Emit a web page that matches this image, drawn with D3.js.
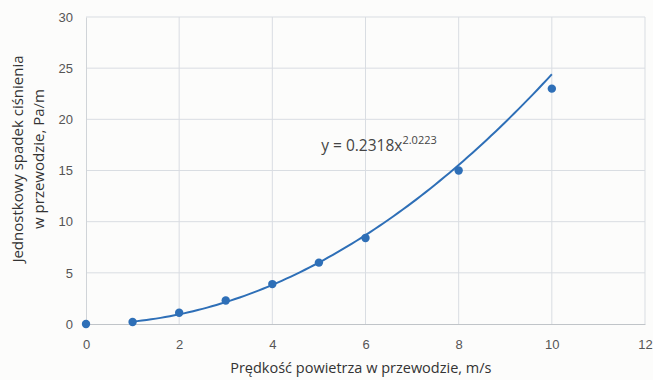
<!DOCTYPE html>
<html>
<head>
<meta charset="utf-8">
<script src="https://cdn.jsdelivr.net/npm/d3@7"></script>
<style>
  body { margin: 0; background: #fcfcfb; }
  svg { font-family: "Open Sans", "Liberation Sans", sans-serif; }
  .tick text { fill: #555; font-size: 13px; }
  .grid line { stroke: #d9dde2; }
</style>
</head>
<body>
<div id="chart"></div>
<script>
// Data
const speed = [0, 1, 2, 3, 4, 5, 6, 8, 10];
const pressureDrop = [0, 0.2, 1.1, 2.3, 3.9, 6.0, 8.4, 15.0, 23.0];
// Power trendline shown on the chart: y = a * x^b
const trendCoef = [0.2318, 2.0223];
const trendRange = [1, 10];
const xTicks = [0, 2, 4, 6, 8, 10, 12];
const yTicks = [0, 5, 10, 15, 20, 25, 30];

const svgWidth = 653, svgHeight = 380;
const margin = { top: 17, right: 8, bottom: 56, left: 86 };
const width = svgWidth - margin.left - margin.right;
const height = svgHeight - margin.top - margin.bottom;
const blue = "#2e6fb7";

const svg = d3.select("#chart").append("svg")
  .attr("width", svgWidth).attr("height", svgHeight);
const g = svg.append("g").attr("transform", `translate(${margin.left},${margin.top})`);

const x = d3.scaleLinear().domain([0, 12]).range([0, width]);
const y = d3.scaleLinear().domain([0, 30]).range([height, 0]);

// Grid
g.append("g").attr("class", "grid")
  .selectAll("line.h").data(yTicks.slice(1)).join("line")
  .attr("x1", 0).attr("x2", width)
  .attr("y1", d => y(d)).attr("y2", d => y(d));
g.append("g").attr("class", "grid")
  .selectAll("line.v").data(xTicks.slice(1)).join("line")
  .attr("y1", 0).attr("y2", height)
  .attr("x1", d => x(d)).attr("x2", d => x(d));

// Axes
const gX = g.append("g").attr("transform", `translate(0,${height})`)
  .call(d3.axisBottom(x).tickValues(xTicks).tickSize(0).tickPadding(16));
gX.select(".domain").attr("stroke", "#c0c4c8");
const gY = g.append("g")
  .call(d3.axisLeft(y).tickValues(yTicks).tickSize(0).tickPadding(13));
gY.select(".domain").attr("stroke", "#d0d4d8");

// Trendline
const trendX = d3.range(trendRange[0], trendRange[1] + 0.001, 0.1);
const line = d3.line()
  .x(d => x(d))
  .y(d => y(trendCoef[0] * Math.pow(d, trendCoef[1])))
  .curve(d3.curveMonotoneX);
g.append("path").datum(trendX)
  .attr("fill", "none").attr("stroke", blue).attr("stroke-width", 2)
  .attr("d", line);

// Points
g.selectAll("circle.pt").data(d3.zip(speed, pressureDrop)).join("circle")
  .attr("class", "pt")
  .attr("cx", d => x(d[0])).attr("cy", d => y(d[1]))
  .attr("r", 4.2).attr("fill", blue);

// Equation label
const eq = g.append("text")
  .attr("x", x(5.05)).attr("y", y(16.9))
  .attr("fill", "#444").style("font-size", "15.5px");
eq.append("tspan").text(`y = ${trendCoef[0]}x`);
eq.append("tspan").attr("dy", -7).style("font-size", "11px").text(trendCoef[1]);

// Axis titles
svg.append("text")
  .attr("x", margin.left + x(5.9)).attr("y", 373)
  .attr("text-anchor", "middle").attr("fill", "#333")
  .style("font-size", "14.5px")
  .text("Prędkość powietrza w przewodzie, m/s");

const yTitle = svg.append("text")
  .attr("transform", `translate(0,159) rotate(-90)`)
  .attr("text-anchor", "middle").attr("fill", "#333")
  .style("font-size", "15px");
yTitle.append("tspan").attr("x", 0).attr("y", 23).text("Jednostkowy spadek ciśnienia");
yTitle.append("tspan").attr("x", 0).attr("y", 44).text("w przewodzie, Pa/m");
</script>
</body>
</html>
